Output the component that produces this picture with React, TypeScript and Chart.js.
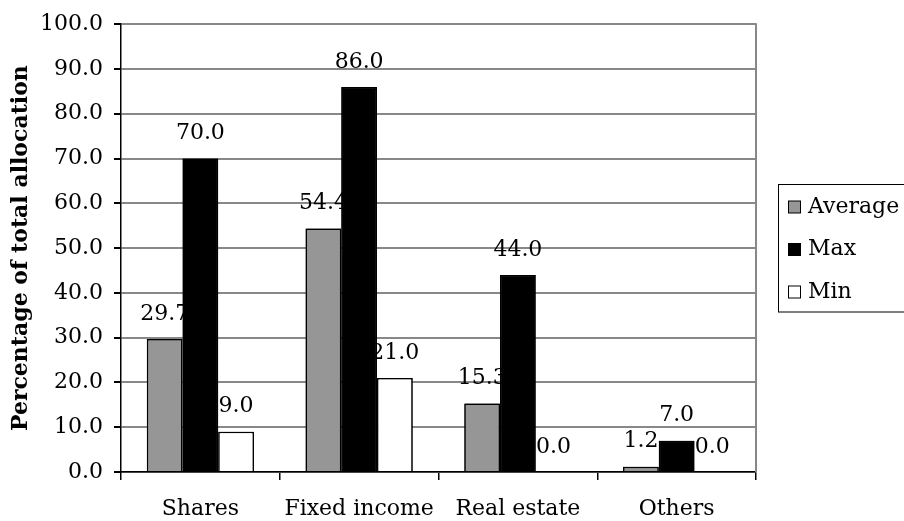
import React, { useEffect, useRef } from "react";
import { Chart, registerables } from "chart.js";

Chart.register(...registerables);

const categories = ["Shares", "Fixed income", "Real estate", "Others"];
const averageValues = [29.7, 54.4, 15.3, 1.2];
const maxValues = [70.0, 86.0, 44.0, 7.0];
const minValues = [9.0, 21.0, 0.0, 0.0];
const yTitle = "Percentage of total allocation";

const FONT = "DejaVu Serif";

// Draw bars and value labels series by series, so later bars cover earlier labels
const valueLabels = {
  id: "valueLabels",
  afterDatasetsDraw(chart: any) {
    const ctx = chart.ctx;
    const datasets = chart.data.datasets;
    ctx.save();
    for (let i = 0; i < datasets.length; i++) {
      const meta = chart.getDatasetMeta(i);
      meta.data.forEach((bar: any) => bar.draw(ctx));
      ctx.font = `22px "${FONT}"`;
      ctx.fillStyle = "#000";
      ctx.textAlign = "center";
      ctx.textBaseline = "middle";
      meta.data.forEach((bar: any, k: number) => {
        const v = datasets[i].data[k] as number;
        ctx.fillText(v.toFixed(1), bar.x, bar.y - 25);
      });
    }
    ctx.restore();
  },
};

const frameAndLegend = {
  id: "frameAndLegend",
  beforeDatasetsDraw(chart: any) {
    const { ctx, chartArea } = chart;
    ctx.save();
    ctx.strokeStyle = "#888";
    ctx.lineWidth = 2;
    ctx.beginPath();
    ctx.moveTo(chartArea.right, chartArea.top - 1);
    ctx.lineTo(chartArea.right, chartArea.bottom);
    ctx.stroke();
    ctx.restore();
  },
  afterDraw(chart: any) {
    const { ctx } = chart;
    const left = 778;
    const top = 184;
    const rowH = 42.5;
    const datasets = chart.data.datasets;
    ctx.save();
    ctx.strokeStyle = "#000";
    ctx.lineWidth = 1;
    ctx.strokeRect(left + 0.5, top + 0.5, 200, rowH * datasets.length);
    ctx.font = `22px "${FONT}"`;
    ctx.textBaseline = "middle";
    ctx.textAlign = "left";
    datasets.forEach((ds: any, i: number) => {
      const cy = top + 23 + i * rowH;
      ctx.fillStyle = ds.backgroundColor;
      ctx.fillRect(left + 10.5, cy - 6, 12, 12);
      ctx.strokeStyle = "#000";
      ctx.strokeRect(left + 10.5, cy - 6, 12, 12);
      ctx.fillStyle = "#000";
      ctx.fillText(ds.label, left + 30, cy);
    });
    ctx.restore();
  },
};

export default function App() {
  const ref = useRef<HTMLCanvasElement>(null);
  useEffect(() => {
    if (!ref.current) return;
    const chart = new Chart(ref.current, {
      type: "bar",
      data: {
        labels: categories,
        datasets: [
          {
            label: "Average",
            data: averageValues,
            backgroundColor: "#969696",
            borderColor: "#000",
            borderWidth: 1.5,
          },
          {
            label: "Max",
            data: maxValues,
            backgroundColor: "#000",
            borderColor: "#000",
            borderWidth: 1.5,
          },
          {
            label: "Min",
            data: minValues,
            backgroundColor: "#fff",
            borderColor: "#000",
            borderWidth: 1.5,
          },
        ],
      },
      options: {
        animation: false,
        responsive: true,
        maintainAspectRatio: false,
        layout: { padding: { left: 0, top: 22, right: 148, bottom: 0 } },
        datasets: {
          bar: { barPercentage: 1, categoryPercentage: 0.675 },
        },
        plugins: {
          legend: { display: false },
          tooltip: { enabled: false },
        },
        scales: {
          x: {
            offset: true,
            grid: {
              offset: true,
              drawOnChartArea: false,
              drawTicks: true,
              tickLength: 8,
              color: "#000",
              lineWidth: 1.5,
            },
            border: { color: "#000", width: 1.5 },
            ticks: {
              color: "#000",
              font: { family: FONT, size: 22 },
              padding: 16,
              maxRotation: 0,
            },
            afterFit(scale: any) {
              scale.height = 49;
            },
          },
          y: {
            min: 0,
            max: 100,
            ticks: {
              stepSize: 10,
              color: "#000",
              font: { family: FONT, size: 22 },
              padding: 11,
              callback: (v: any) => Number(v).toFixed(1),
            },
            grid: {
              color: "#888",
              tickColor: "#000",
              tickLength: 7,
              lineWidth: 2,
            },
            border: { color: "#000", width: 1.5 },
            title: {
              display: true,
              text: yTitle,
              color: "#000",
              font: { family: FONT, size: 22, weight: "bold" },
              padding: { top: 8, bottom: 0 },
            },
            afterFit(scale: any) {
              scale.width = 121;
            },
          },
        },
      },
      plugins: [valueLabels, frameAndLegend],
    });
    return () => chart.destroy();
  }, []);
  return (
    <div style={{ position: "fixed", left: 0, top: 0, width: 904, height: 521, background: "#fff" }}>
      <canvas ref={ref} />
    </div>
  );
}
